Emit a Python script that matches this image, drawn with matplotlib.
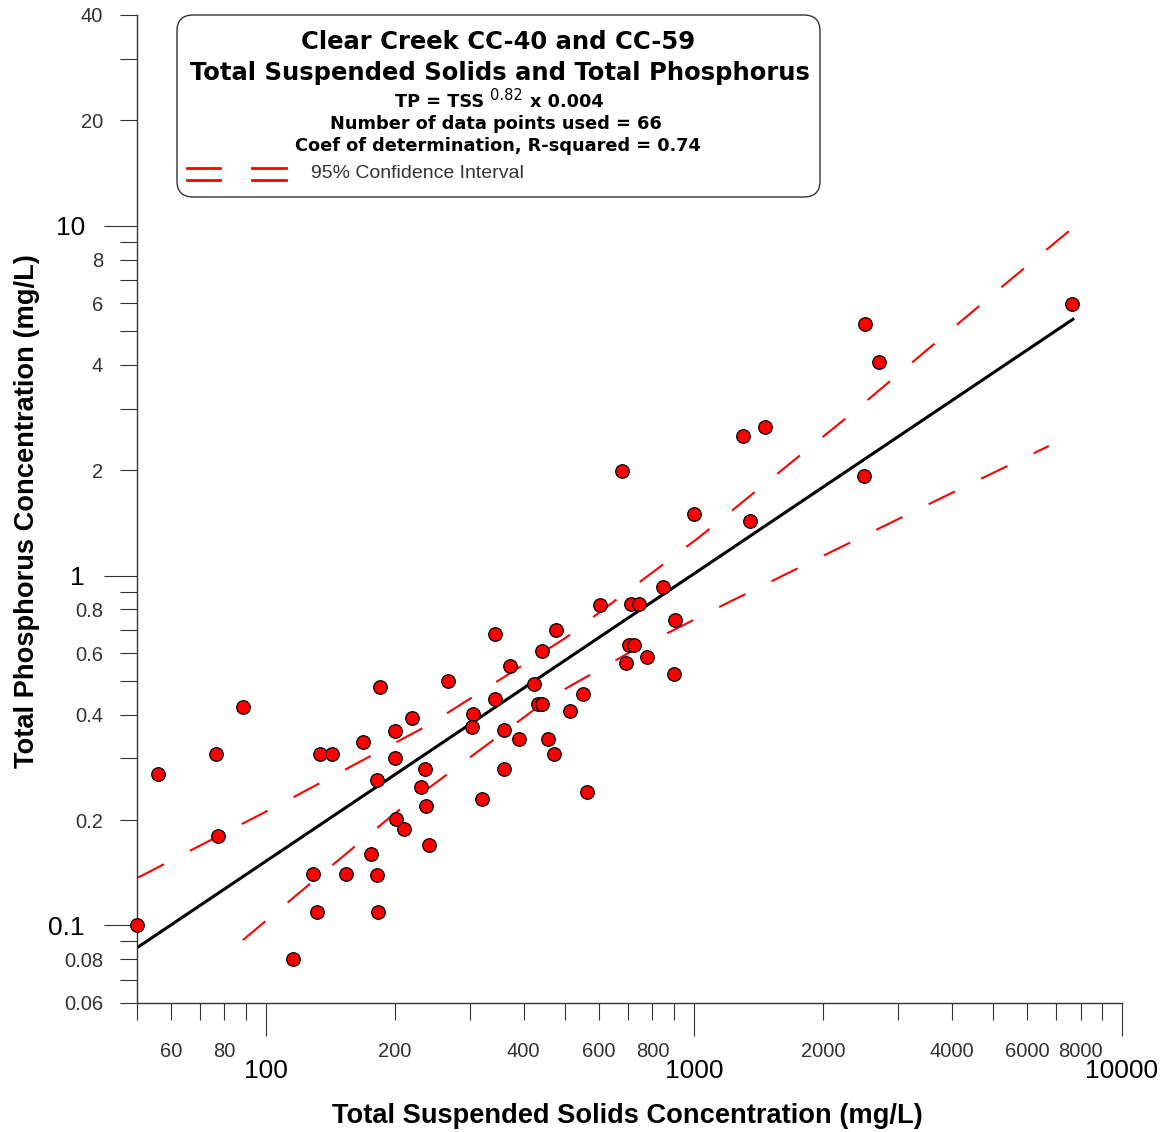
import matplotlib
matplotlib.use("Agg")
import matplotlib.pyplot as plt
from matplotlib.patches import FancyBboxPatch
from matplotlib.lines import Line2D
from matplotlib.ticker import FixedLocator, FixedFormatter

# measured samples (TSS mg/L, TP mg/L)
tss = [50, 56, 76.5, 88.5, 77.3, 116, 129, 131.5, 134, 143, 154, 169, 176, 181.5,
       181.5, 183, 184.5, 200, 200, 201, 210, 220, 230, 235, 237, 240, 266, 304,
       303, 343, 343, 360, 371, 390, 423, 433, 442, 442, 455, 470, 476, 513, 551,
       602, 678, 694, 705, 724, 713, 746, 776, 846, 898, 903, 1000, 1305, 1353,
       1468, 2492, 2513, 2701, 7640, 320, 360, 564]
tp = [0.100, 0.270, 0.309, 0.420, 0.180, 0.080, 0.140, 0.109, 0.309, 0.309, 0.140,
      0.335, 0.160, 0.139, 0.260, 0.109, 0.481, 0.360, 0.301, 0.201, 0.189, 0.391,
      0.249, 0.280, 0.219, 0.170, 0.499, 0.403, 0.370, 0.679, 0.444, 0.361, 0.551,
      0.342, 0.490, 0.428, 0.428, 0.609, 0.342, 0.309, 0.698, 0.409, 0.460, 0.821,
      1.99, 0.561, 0.631, 0.631, 0.828, 0.828, 0.586, 0.930, 0.522, 0.748, 1.50,
      2.51, 1.43, 2.65, 1.93, 5.22, 4.08, 5.97, 0.229, 0.280, 0.240]

# regression line end points
fit_tss = [50, 7680]
fit_tp = [0.0863, 5.40]

# 95% confidence interval
ci_up_tss = [50.3, 109.6, 240, 501, 1023, 2328, 5237, 7670]
ci_up_tp = [0.137, 0.224, 0.374, 0.663, 1.28, 2.895, 6.68, 9.85]
ci_lo_tss = [88.4, 130.1, 200, 300.7, 467, 718, 1183, 2230, 4226, 6743]
ci_lo_tp = [0.0908, 0.135, 0.209, 0.303, 0.452, 0.609, 0.829, 1.214, 1.779, 2.345]

x_major = [100, 1000, 10000]
x_minor = [50, 60, 70, 80, 90, 200, 300, 400, 500, 600, 700, 800, 900,
           2000, 3000, 4000, 5000, 6000, 7000, 8000, 9000]
x_minor_shown = [60, 80, 200, 400, 600, 800, 2000, 4000, 6000, 8000]
y_major = [0.1, 1, 10]
y_minor = [0.06, 0.07, 0.08, 0.09, 0.2, 0.3, 0.4, 0.5, 0.6, 0.7, 0.8, 0.9,
           2, 3, 4, 5, 6, 7, 8, 9, 20, 30, 40]
y_minor_shown = [0.06, 0.08, 0.2, 0.4, 0.6, 0.8, 2, 4, 6, 8, 20, 40]

W, H = 1163, 1132


def fx(px):
    return px / W


def fy(py):
    return 1 - py / H


def fmt(v):
    return f"{v:g}"


plt.rcParams['font.family'] = ['Liberation Sans', 'DejaVu Sans']

fig = plt.figure(figsize=(W / 100, H / 100), dpi=100)
ax = fig.add_axes([fx(137), fy(1003), fx(1122) - fx(137), fy(15) - fy(1003)])
ax.set_xscale('log')
ax.set_yscale('log')

red = '#ff0000'
ax.plot(ci_up_tss, ci_up_tp, color=red, lw=1.5, dashes=(14, 14), zorder=2)
ax.plot(ci_lo_tss, ci_lo_tp, color=red, lw=1.5, dashes=(14, 14), zorder=2)
ax.plot(fit_tss, fit_tp, color='black', lw=2.2, zorder=2)
ax.scatter(tss, tp, s=95, c=red, edgecolors='black', linewidths=0.9,
           zorder=3, clip_on=False)

ax.set_xlim(50, 10000)
ax.set_ylim(0.06, 40)

for s in ['top', 'right']:
    ax.spines[s].set_visible(False)
for s in ['left', 'bottom']:
    ax.spines[s].set_color('#333333')
    ax.spines[s].set_linewidth(1.0)

ax.xaxis.set_major_locator(FixedLocator(x_major))
ax.xaxis.set_major_formatter(FixedFormatter([fmt(v) for v in x_major]))
ax.xaxis.set_minor_locator(FixedLocator(x_minor))
ax.xaxis.set_minor_formatter(FixedFormatter(
    [fmt(v) if v in x_minor_shown else '' for v in x_minor]))
ax.yaxis.set_major_locator(FixedLocator(y_major))
ax.yaxis.set_major_formatter(FixedFormatter([fmt(v) for v in y_major]))
ax.yaxis.set_minor_locator(FixedLocator(y_minor))
ax.yaxis.set_minor_formatter(FixedFormatter(
    [fmt(v) if v in y_minor_shown else '' for v in y_minor]))

ax.tick_params(which='major', length=24, width=0.8, color='#333333',
               labelsize=19, labelcolor='black')
ax.tick_params(which='minor', length=12.3, width=0.8, color='#333333',
               labelsize=14.5, labelcolor='#333333')
ax.tick_params(axis='x', which='major', pad=16)
ax.tick_params(axis='x', which='minor', pad=16)
ax.tick_params(axis='y', which='major', pad=13.5)
ax.tick_params(axis='y', which='minor', pad=12)

fig.text(fx(627), fy(1116), 'Total Suspended Solids Concentration (mg/L)',
         ha='center', va='center', fontsize=19.6, fontweight='bold')
fig.text(fx(27), fy(511), 'Total Phosphorus Concentration (mg/L)',
         ha='center', va='center', fontsize=19.6, fontweight='bold', rotation=90)

# title box
box = FancyBboxPatch((fx(177), fy(197)), fx(820) - fx(177), fy(15) - fy(197),
                     boxstyle='round,pad=0,rounding_size=0.014',
                     transform=fig.transFigure, facecolor='white',
                     edgecolor='#333333', linewidth=1.0)
fig.add_artist(box)

tfont = ['DejaVu Sans']
fig.text(fx(498), fy(42), 'Clear Creek CC-40 and CC-59', ha='center', va='center',
         fontsize=17.5, fontweight='bold', family=tfont)
fig.text(fx(500), fy(73), 'Total Suspended Solids and Total Phosphorus',
         ha='center', va='center', fontsize=17.5, fontweight='bold', family=tfont)
fig.text(fx(496), fy(124), 'Number of data points used = 66', ha='center',
         va='center', fontsize=12.8, fontweight='bold', family=tfont)
fig.text(fx(498), fy(146), 'Coef of determination, R-squared = 0.74',
         ha='center', va='center', fontsize=12.8, fontweight='bold', family=tfont)

# equation line with raised exponent, pieces placed one after the other
renderer = fig.canvas.get_renderer()
t1 = fig.text(fx(395), fy(102), 'TP = TSS ', ha='left', va='center',
              fontsize=12.8, fontweight='bold', family=tfont)
x_end = t1.get_window_extent(renderer).x1
t2 = fig.text(x_end / W, fy(96), '0.82', ha='left', va='center',
              fontsize=10.5, family=tfont)
x_end = t2.get_window_extent(renderer).x1
fig.text(x_end / W + fx(7), fy(102), 'x 0.004', ha='left', va='center',
         fontsize=12.8, fontweight='bold', family=tfont)

for x0, x1 in [(187, 220), (252, 286)]:
    for yy in [168, 180]:
        fig.add_artist(Line2D([fx(x0), fx(x1)], [fy(yy), fy(yy)],
                              transform=fig.transFigure, color=red, lw=2.0))
fig.text(fx(311), fy(174), '95% Confidence Interval', ha='left', va='center',
         fontsize=14, color='#333333')

fig.savefig('out.png', dpi=100, facecolor='white')
